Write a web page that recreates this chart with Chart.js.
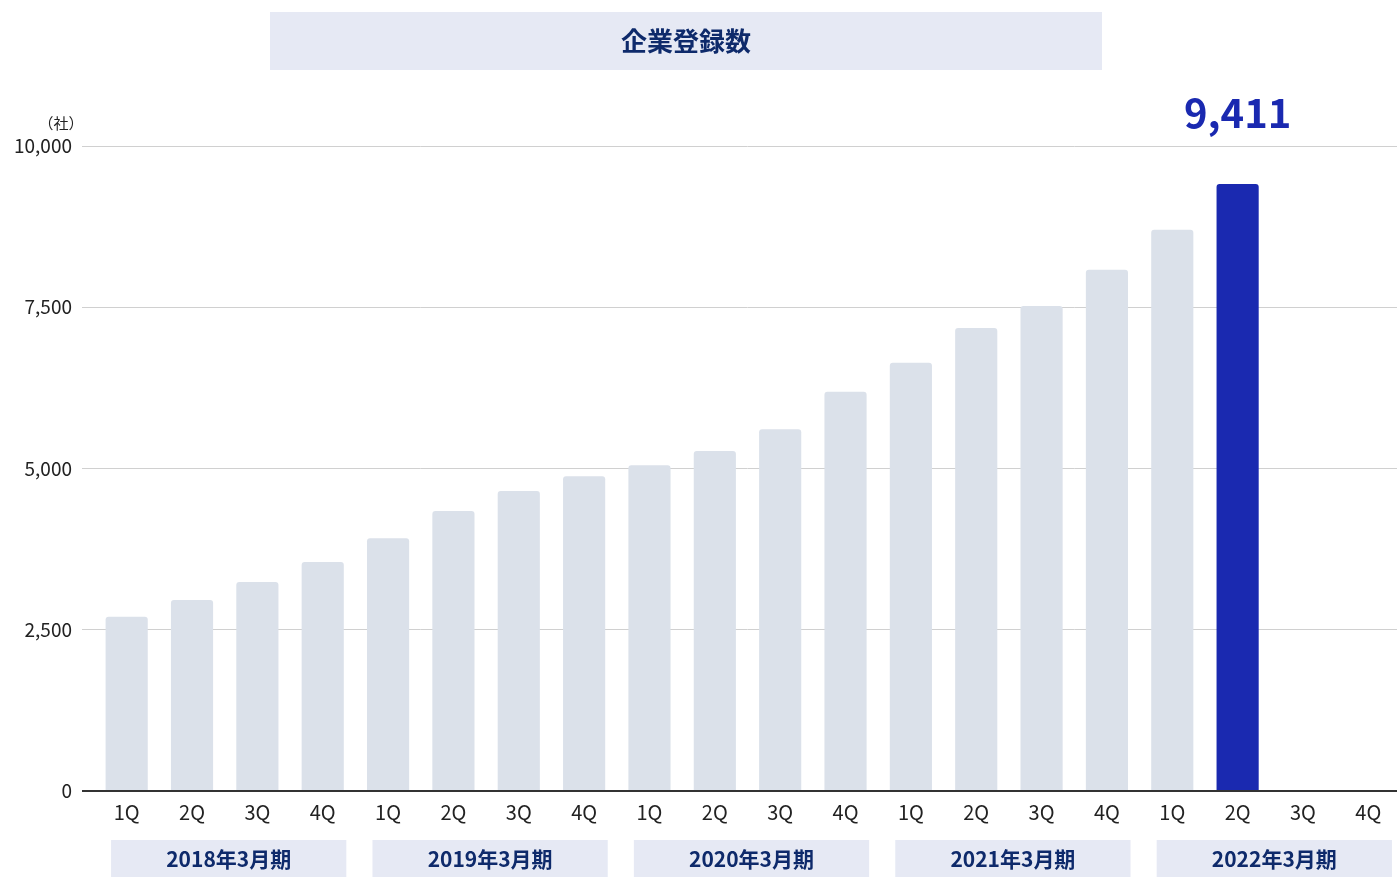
<!DOCTYPE html>
<html>
<head>
<meta charset="utf-8">
<script src="https://cdn.jsdelivr.net/npm/chart.js@4"></script>
<style>
  html, body { margin: 0; padding: 0; background: #fff; overflow: hidden; }
  #wrap { position: relative; width: 1401px; height: 877px; }
</style>
</head>
<body>
<div id="wrap"><canvas id="chart"></canvas></div>
<script>
const FONT = '"Noto Sans CJK JP", "Noto Sans", sans-serif';

// データ
const quarters = ['1Q', '2Q', '3Q', '4Q'];
const years = ['2018年3月期', '2019年3月期', '2020年3月期', '2021年3月期', '2022年3月期'];
const labels = years.flatMap(() => quarters);
const companies = [
  2700, 2960, 3240, 3550,
  3920, 4340, 4650, 4880,
  5050, 5270, 5610, 6190,
  6640, 7180, 7520, 8080,
  8700, 9411, null, null
];
const highlightIndex = 17;
const yTicks = [0, 2500, 5000, 7500, 10000];

const barColors = companies.map((v, i) => i === highlightIndex ? '#1a29b0' : '#dbe1ea');

// タイトル・年度ボックス・数値ラベルを描く
const decorations = {
  id: 'decorations',
  afterDraw(chart) {
    const ctx = chart.ctx;
    const x = chart.scales.x;
    ctx.save();

    // タイトル
    ctx.fillStyle = '#e6e9f4';
    ctx.fillRect(270, 12, 832, 58);
    ctx.fillStyle = '#0e2a6b';
    ctx.font = 'bold 26px ' + FONT;
    ctx.textAlign = 'center';
    ctx.textBaseline = 'middle';
    ctx.fillText('企業登録数', 686, 41);

    // 単位
    ctx.fillStyle = '#222';
    ctx.font = '15px ' + FONT;
    ctx.fillText('（社）', 61, 123);

    // 年度ボックス
    const step = x.getPixelForValue(1) - x.getPixelForValue(0);
    years.forEach((y, g) => {
      const c = (x.getPixelForValue(g * 4) + x.getPixelForValue(g * 4 + 3)) / 2 + 4;
      const w = step * 3.6;
      ctx.fillStyle = '#e6e9f4';
      ctx.fillRect(c - w / 2, 840, w, 40);
      ctx.fillStyle = '#0e2a6b';
      ctx.font = 'bold 21px ' + FONT;
      ctx.fillText(y, c, 859);
    });

    // 最新値ラベル
    const bar = chart.getDatasetMeta(0).data[highlightIndex];
    ctx.fillStyle = '#1a29b0';
    ctx.font = 'bold 40px ' + FONT;
    ctx.fillText(companies[highlightIndex].toLocaleString('en-US'), bar.x, bar.y - 71);

    ctx.restore();
  }
};

new Chart(document.getElementById('chart'), {
  type: 'bar',
  data: {
    labels: labels,
    datasets: [{
      data: companies,
      backgroundColor: barColors,
      borderRadius: { topLeft: 3, topRight: 3 },
      borderSkipped: 'bottom',
      barPercentage: 0.645,
      categoryPercentage: 1
    }]
  },
  options: {
    responsive: true,
    maintainAspectRatio: false,
    animation: false,
    layout: { padding: { top: 146, right: 0, left: 0, bottom: 0 } },
    plugins: {
      legend: { display: false },
      tooltip: { enabled: false }
    },
    scales: {
      x: {
        afterFit(s) { s.height = 86; },
        grid: { display: false },
        border: { display: true, color: '#333', width: 2 },
        ticks: { color: '#222', font: { family: FONT, size: 20 }, padding: 1, maxRotation: 0, autoSkip: false }
      },
      y: {
        min: 0,
        max: 10000,
        afterFit(s) { s.width = 94; },
        afterBuildTicks(s) { s.ticks = yTicks.map(v => ({ value: v })); },
        border: { display: false },
        grid: {
          color: ctx => ctx.tick && ctx.tick.value === 0 ? '#333' : '#d0d0d0',
          lineWidth: ctx => ctx.tick && ctx.tick.value === 0 ? 2 : 1,
          tickLength: 12
        },
        ticks: {
          color: '#222',
          padding: 10,
          font: { family: FONT, size: 19 },
          callback: v => v.toLocaleString('en-US')
        }
      }
    }
  },
  plugins: [decorations]
});
</script>
</body>
</html>
